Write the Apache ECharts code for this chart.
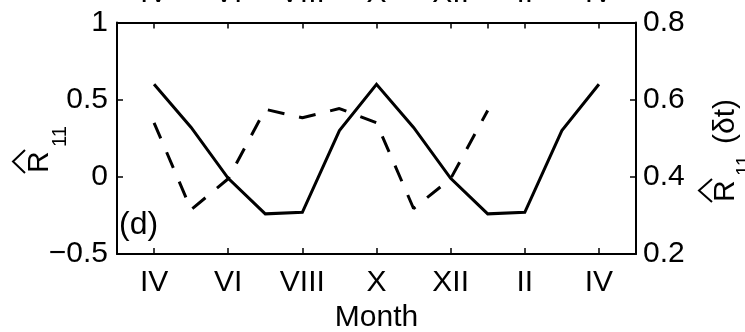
<!DOCTYPE html>
<html>
<head>
<meta charset="utf-8">
<script src="https://cdn.jsdelivr.net/npm/echarts@6/dist/echarts.min.js"></script>
<style>
  html, body { margin: 0; padding: 0; background: #fff; }
  #chart { width: 745px; height: 332px; }
</style>
</head>
<body>
<div id="chart"></div>
<script>
// month categories, one month of padding on each side of the plotted range
var months = ['III', 'IV', 'V', 'VI', 'VII', 'VIII', 'IX', 'X', 'XI', 'XII', 'I', 'II', 'III', 'IV', 'V'];
// solid line, left axis (R11)
var solidValues = [null, 0.6, 0.32, -0.01, -0.24, -0.23, 0.3, 0.6, 0.32, -0.01, -0.24, -0.23, 0.3, 0.6, null];
// dashed line, right axis (R11(dt))
var dashedValues = [null, 0.54, 0.315, 0.395, 0.575, 0.553, 0.577, 0.54, 0.318, 0.395, 0.572, null, null, null, null];
// which categories get a tick / label
var labelIdx = [1, 3, 5, 7, 9, 11, 13];
var topTickIdx = [1, 3, 5, 7, 9, 10, 11, 13];

var FONT = '"Liberation Sans", Arial, sans-serif';
var myChart = echarts.init(document.getElementById('chart'));

function axisX(pos, ticks) {
    return {
        type: 'category',
        position: pos,
        data: months,
        boundaryGap: false,
        axisLine: { show: true, onZero: false, lineStyle: { color: '#000', width: 2 } },
        axisTick: {
            show: true, inside: true, length: 6,
            interval: function (i) { return ticks.indexOf(i) >= 0; },
            lineStyle: { color: '#000', width: 1.5 }
        },
        axisLabel: {
            show: true, margin: 14, color: '#000', fontSize: 30, fontFamily: FONT,
            interval: function (i) { return labelIdx.indexOf(i) >= 0; }
        },
        splitLine: { show: false }
    };
}

var xBottom = axisX('bottom', labelIdx);
xBottom.name = 'Month';
xBottom.nameLocation = 'middle';
xBottom.nameGap = 49;
xBottom.nameTextStyle = { color: '#000', fontSize: 30, fontFamily: FONT };

var option = {
    animation: false,
    backgroundColor: '#fff',
    grid: { left: 117, right: 109, top: 22.5, bottom: 78, containLabel: false, outerBoundsMode: 'none' },
    xAxis: [xBottom, axisX('top', topTickIdx)],
    yAxis: [
        {
            type: 'value', position: 'left', min: -0.5, max: 1, interval: 0.5,
            axisLine: { show: true, lineStyle: { color: '#000', width: 2 } },
            axisTick: { show: true, inside: true, length: 6, lineStyle: { color: '#000', width: 1.5 } },
            axisLabel: {
                margin: 9, color: '#000', fontSize: 30, fontFamily: FONT,
                formatter: function (v) { return String(v).replace('-', '\u2212'); }
            },
            splitLine: { show: false }
        },
        {
            type: 'value', position: 'right', min: 0.2, max: 0.8, interval: 0.2,
            axisLine: { show: true, lineStyle: { color: '#000', width: 2 } },
            axisTick: { show: true, inside: true, length: 6, lineStyle: { color: '#000', width: 1.5 } },
            axisLabel: {
                margin: 7, color: '#000', fontSize: 30, fontFamily: FONT,
                formatter: function (v) { return v.toFixed(1); }
            },
            splitLine: { show: false }
        }
    ],
    series: [
        {
            type: 'line', xAxisIndex: 0, yAxisIndex: 0, data: solidValues,
            showSymbol: false, symbol: 'none', connectNulls: false,
            lineStyle: { color: '#000', width: 3, join: 'miter' }
        },
        {
            type: 'line', xAxisIndex: 0, yAxisIndex: 1, data: dashedValues,
            showSymbol: false, symbol: 'none', connectNulls: false,
            lineStyle: { color: '#000', width: 3, type: [17, 15], cap: 'butt' }
        }
    ],
    graphic: [
        {
            type: 'text', left: 119, top: 209,
            style: { text: '(d)', font: '32px ' + FONT, fill: '#000' }
        },
        {
            type: 'group', x: 40, y: 173, rotation: Math.PI / 2,
            children: [
                { type: 'text', x: 0, y: 0, style: { text: 'R', font: '30px ' + FONT, fill: '#000', align: 'left', verticalAlign: 'middle' } },
                { type: 'text', x: 26, y: 20, style: { text: '11', font: '20px ' + FONT, fill: '#000', align: 'left', verticalAlign: 'middle' } },
                { type: 'polyline', shape: { points: [[0, -15], [11.5, -27], [23, -15]] }, style: { stroke: '#000', lineWidth: 2, fill: null } }
            ]
        },
        {
            type: 'group', x: 726, y: 202, rotation: Math.PI / 2,
            children: [
                { type: 'text', x: 0, y: 0, style: { text: 'R', font: '30px ' + FONT, fill: '#000', align: 'left', verticalAlign: 'middle' } },
                { type: 'text', x: 26, y: 18, style: { text: '11', font: '20px ' + FONT, fill: '#000', align: 'left', verticalAlign: 'middle' } },
                { type: 'text', x: 58, y: 0, style: { text: '(\u03b4t)', font: '30px ' + FONT, fill: '#000', align: 'left', verticalAlign: 'middle' } },
                { type: 'polyline', shape: { points: [[0, -14], [11.5, -27], [23, -14]] }, style: { stroke: '#000', lineWidth: 2, fill: null } }
            ]
        }
    ]
};
myChart.setOption(option);
window.onresize = myChart.resize;
</script>
</body>
</html>
